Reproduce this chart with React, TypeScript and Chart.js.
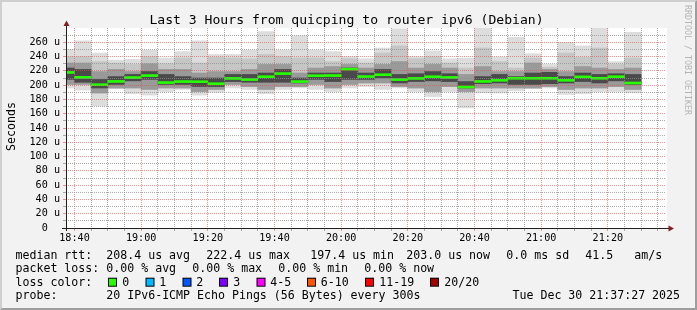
import React, { useEffect, useRef } from 'react';
import { Chart, registerables } from 'chart.js';

Chart.register(...registerables);

// ---------- data ----------
const viewStart = '18:37:27';
const viewEnd = '21:37:27';

// end time of each 5-minute smoke bar
const slotEnds = [
  '18:40', '18:45', '18:50', '18:55', '19:00', '19:05', '19:10', '19:15', '19:20', '19:25',
  '19:30', '19:35', '19:40', '19:45', '19:50', '19:55', '20:00', '20:05', '20:10', '20:15',
  '20:20', '20:25', '20:30', '20:35', '20:40', '20:45', '20:50', '20:55', '21:00', '21:05',
  '21:10', '21:15', '21:20', '21:25', '21:30',
];

// smoke bands (microseconds)
const pingMax = [250, 262, 245, 235, 236, 249, 238, 247, 262, 243, 243, 249, 275, 249, 269, 249, 247, 240, 237, 252, 279, 240, 248, 237, 238, 280, 239, 267, 244, 229, 260, 255, 280, 233, 274];
const upperMid = [240, 240, 233, 231, 229, 240, 230, 238, 231, 239, 238, 237, 243, 240, 238, 238, 233, 237, 231, 245, 255, 237, 240, 231, 224, 252, 233, 224, 238, 225, 245, 239, 252, 229, 238];
const upperInner = [231, 231, 219, 222, 219, 230, 222, 222, 217, 219, 219, 222, 229, 229, 217, 224, 226, 229, 224, 229, 233, 224, 229, 224, 215, 226, 219, 219, 231, 222, 219, 226, 224, 222, 224];
const upperCore = [224, 222, 208, 212, 215, 219, 215, 212, 210, 210, 215, 215, 217, 222, 210, 217, 217, 224, 217, 222, 215, 216, 219, 216, 205, 212, 215, 212, 217, 218, 212, 217, 215, 216, 215];
const medianRtt = [217.8, 210.9, 200.6, 205.2, 210.6, 213.4, 203.6, 205.0, 204.8, 202.0, 209.4, 207.8, 211.8, 216.2, 205.0, 213.2, 213.4, 222.4, 212.0, 214.6, 207.8, 209.4, 211.8, 210.8, 197.4, 205.2, 206.8, 209.6, 209.6, 209.6, 206.8, 211.6, 209.6, 211.8, 203.0];
const lowerCore = [208, 204, 196, 201, 206, 208, 201, 201, 198, 198, 205, 204, 204, 204, 203, 208, 205, 208, 208, 210, 203, 205, 206, 205, 196, 202, 203, 201, 201, 202, 203, 205, 203, 206, 201];
const lowerInner = [201, 201, 189, 196, 196, 194, 196, 196, 191, 194, 201, 198, 194, 198, 198, 201, 196, 201, 203, 203, 198, 196, 191, 198, 191, 196, 196, 196, 196, 198, 194, 196, 196, 198, 194];
const pingMin = [196, 193, 171, 195, 188, 186, 191, 194, 186, 190, 196, 194, 188, 194, 196, 194, 191, 196, 198, 194, 196, 191, 184, 191, 168, 189, 189, 192, 195, 196, 187, 188, 191, 191, 189];

const xTickLabels = ['18:40', '19:00', '19:20', '19:40', '20:00', '20:20', '20:40', '21:00', '21:20'];
const yTickValues = [0, 20, 40, 60, 80, 100, 120, 140, 160, 180, 200, 220, 240, 260];

const titleText = 'Last 3 Hours from quicping to router ipv6 (Debian)';
const unitText = 'Seconds';
const watermarkText = 'RRDTOOL / TOBI OETIKER';

const rowLabels = ['median rtt:', 'packet loss:', 'loss color:', 'probe:'];
const rttStats = ['208.4 us avg', '222.4 us max', '197.4 us min', '203.0 us now', '0.0 ms sd', '41.5', 'am/s'];
const lossStats = ['0.00 % avg', '0.00 % max', '0.00 % min', '0.00 % now'];
const lossLabels = ['0', '1', '2', '3', '4-5', '6-10', '11-19', '20/20'];
const lossColors = ['#26ff00', '#00b8ff', '#0059ff', '#7e00ff', '#ff00ff', '#ff5500', '#ff0000', '#a10000'];
const probeText = '20 IPv6-ICMP Echo Pings (56 Bytes) every 300s';
const dateText = 'Tue Dec 30 21:37:27 2025';

// ---------- layout / style ----------
const W = 697;
const H = 310;
const MONO = "'DejaVu Sans Mono', monospace";
const STEP = 5; // minutes per bar / minor x grid
const Y_STEP = 10; // minor y grid
const Y_MAX = 280;
const GRID = 'rgba(143,143,143,0.75)';
const MGRID = 'rgba(222,79,79,0.6)';
const AXIS = '#1f1f1f';
const ARROW = '#801f1f';

const rttX = [107, 207, 311, 407, 507, 586, 635];
const lossX = [107, 193, 279, 365];
const boxX = [108, 145.5, 182.5, 219, 256.5, 307, 365, 430];
const boxLabelX = [123, 160, 197, 234, 271, 321.5, 380, 445];
const rowY = [258.5, 272, 285.7, 299.3];

const toMin = (s: string) => {
  const p = s.split(':').map(Number);
  return p[0] * 60 + p[1] + (p[2] || 0) / 60;
};
const fmt = (v: number) => {
  const m = Math.round(v);
  const h = Math.floor(m / 60);
  const mm = m % 60;
  return `${String(h).padStart(2, '0')}:${String(mm).padStart(2, '0')}`;
};

const band = (label: string, lo: number[], hi: number[], color: string, order: number) => ({
  type: 'bar' as const,
  label,
  data: slotEnds.map((t, i) => ({ x: toMin(t) - STEP / 2, y: [lo[i], Math.min(hi[i], Y_MAX)] })),
  backgroundColor: color,
  borderWidth: 0,
  grouped: false,
  barPercentage: 1,
  categoryPercentage: 1,
  clip: 0,
  order,
});

const decor = {
  id: 'decor',
  beforeDraw(chart: any) {
    const { ctx, width, height, chartArea: a } = chart;
    ctx.save();
    ctx.fillStyle = '#f2f2f2';
    ctx.fillRect(0, 0, width, height);
    ctx.fillStyle = '#cfcfcf';
    ctx.beginPath();
    ctx.moveTo(0, 0); ctx.lineTo(width, 0); ctx.lineTo(width - 2, 2); ctx.lineTo(2, 2);
    ctx.lineTo(2, height - 2); ctx.lineTo(0, height); ctx.closePath(); ctx.fill();
    ctx.fillStyle = '#9e9e9e';
    ctx.beginPath();
    ctx.moveTo(width, 0); ctx.lineTo(width, height); ctx.lineTo(0, height); ctx.lineTo(2, height - 2);
    ctx.lineTo(width - 2, height - 2); ctx.lineTo(width - 2, 2); ctx.closePath(); ctx.fill();
    ctx.fillStyle = '#ffffff';
    ctx.fillRect(a.left, a.top, a.right - a.left + 1, a.bottom - a.top);
    ctx.restore();
  },
  afterDraw(chart: any) {
    const { ctx, chartArea: a } = chart;
    ctx.save();
    // axes
    ctx.strokeStyle = AXIS;
    ctx.lineWidth = 1;
    ctx.beginPath();
    ctx.moveTo(a.left + 0.5, a.bottom + 3);
    ctx.lineTo(a.left + 0.5, a.top - 3);
    ctx.moveTo(a.left - 4, a.bottom + 0.5);
    ctx.lineTo(a.right + 3, a.bottom + 0.5);
    ctx.stroke();
    ctx.fillStyle = ARROW;
    ctx.beginPath();
    ctx.moveTo(a.left + 0.5, a.top - 7.5);
    ctx.lineTo(a.left - 2.5, a.top - 2);
    ctx.lineTo(a.left + 3.5, a.top - 2);
    ctx.closePath();
    ctx.fill();
    ctx.beginPath();
    ctx.moveTo(a.right + 8, a.bottom + 0.5);
    ctx.lineTo(a.right + 2.5, a.bottom - 2.5);
    ctx.lineTo(a.right + 2.5, a.bottom + 3.5);
    ctx.closePath();
    ctx.fill();

    ctx.fillStyle = '#000';
    ctx.textBaseline = 'alphabetic';
    // title
    ctx.font = `13.1px ${MONO}`;
    ctx.textAlign = 'center';
    ctx.fillText(titleText, 346.5, 23.5);
    // unit
    ctx.font = `11.6px ${MONO}`;
    ctx.save();
    ctx.translate(14.5, 126.5);
    ctx.rotate(-Math.PI / 2);
    ctx.textAlign = 'center';
    ctx.fillText(unitText, 0, 0);
    ctx.restore();
    // watermark
    ctx.save();
    ctx.fillStyle = '#b4b4b4';
    ctx.font = `8.3px ${MONO}`;
    ctx.translate(684.5, 60);
    ctx.rotate(Math.PI / 2);
    ctx.textAlign = 'center';
    ctx.fillText(watermarkText, 0, 0);
    ctx.restore();
    // legend
    ctx.font = `11.6px ${MONO}`;
    ctx.textAlign = 'left';
    rowLabels.forEach((t, i) => ctx.fillText(t, 15.5, rowY[i]));
    rttStats.forEach((t, i) => ctx.fillText(t, rttX[i] - 0.7, rowY[0]));
    lossStats.forEach((t, i) => ctx.fillText(t, lossX[i] - 0.7, rowY[1]));
    lossLabels.forEach((t, i) => {
      ctx.fillStyle = '#000';
      ctx.fillRect(boxX[i], rowY[2] - 8, 9, 9);
      ctx.fillStyle = lossColors[i];
      ctx.fillRect(boxX[i] + 1, rowY[2] - 7, 7, 7);
      ctx.fillStyle = '#000';
      ctx.fillText(t, boxLabelX[i] - 0.7, rowY[2]);
    });
    ctx.fillText(probeText, 106.3, rowY[3]);
    ctx.fillText(dateText, 512.5, rowY[3]);
    ctx.restore();
  },
};

export default function App() {
  const ref = useRef<HTMLCanvasElement | null>(null);

  useEffect(() => {
    if (!ref.current) return;
    const medianThickness = 1.4;
    const chart = new Chart(ref.current, {
      type: 'bar',
      data: {
        datasets: [
          band('min-max', pingMin, pingMax, '#dddddd', 5),
          band('outer', lowerInner, upperMid, '#c6c6c6', 4),
          band('inner', lowerInner, upperInner, '#9a9a9a', 3),
          band('core', lowerCore, upperCore, '#4a4a4a', 2),
          band(
            'median',
            medianRtt.map((m) => m - medianThickness),
            medianRtt.map((m) => m + medianThickness),
            '#26ff00',
            1,
          ),
        ] as any,
      },
      options: {
        animation: false,
        responsive: false,
        devicePixelRatio: 1,
        events: [],
        layout: { padding: { top: 28, left: 0, right: W - 666, bottom: H - 228 - 20 } },
        plugins: { legend: { display: false }, tooltip: { enabled: false }, title: { display: false } },
        scales: {
          x: {
            type: 'linear',
            min: toMin(viewStart),
            max: toMin(viewEnd),
            offset: false,
            afterBuildTicks: (scale: any) => {
              const ticks: { value: number }[] = [];
              for (let v = Math.ceil(scale.min / STEP) * STEP; v <= scale.max; v += STEP) ticks.push({ value: v });
              scale.ticks = ticks;
            },
            afterFit: (scale: any) => {
              scale.height = 20;
              scale.paddingLeft = 0;
              scale.paddingRight = 0;
            },
            ticks: {
              autoSkip: false,
              maxTicksLimit: 1000,
              maxRotation: 0,
              minRotation: 0,
              padding: 1,
              color: '#000',
              font: { family: MONO, size: 10.15 },
              callback: (v: any) => {
                const s = fmt(Number(v));
                return xTickLabels.includes(s) ? s : '';
              },
            },
            grid: {
              z: 1,
              offset: false,
              lineWidth: 1,
              tickLength: 3,
              color: (c: any) => (c.tick && xTickLabels.includes(fmt(c.tick.value)) ? MGRID : GRID),
            },
            border: { display: false, dash: [1, 1] },
          },
          y: {
            type: 'linear',
            min: 0,
            max: Y_MAX,
            afterBuildTicks: (scale: any) => {
              const ticks: { value: number }[] = [];
              for (let v = 0; v <= Y_MAX; v += Y_STEP) ticks.push({ value: v });
              scale.ticks = ticks;
            },
            afterFit: (scale: any) => {
              scale.width = 66;
              scale.paddingTop = 0;
              scale.paddingBottom = 0;
            },
            ticks: {
              autoSkip: false,
              maxTicksLimit: 1000,
              padding: 3,
              color: '#000',
              font: { family: MONO, size: 10.15 },
              callback: (v: any) => {
                const n = Number(v);
                if (!yTickValues.includes(n)) return '';
                return n === 0 ? '0  ' : `${n} u`;
              },
            },
            grid: {
              z: 1,
              lineWidth: 1,
              tickLength: 3,
              color: (c: any) => {
                const v = c.tick ? c.tick.value : -1;
                if (v <= 0 || v >= Y_MAX) return 'rgba(0,0,0,0)';
                return yTickValues.includes(v) ? MGRID : GRID;
              },
            },
            border: { display: false, dash: [1, 1] },
          },
        },
      } as any,
      plugins: [decor],
    });
    return () => chart.destroy();
  }, []);

  return (
    <div style={{ position: 'absolute', left: 0, top: 0, width: W, height: H }}>
      <canvas ref={ref} width={W} height={H} style={{ display: 'block' }} />
    </div>
  );
}
